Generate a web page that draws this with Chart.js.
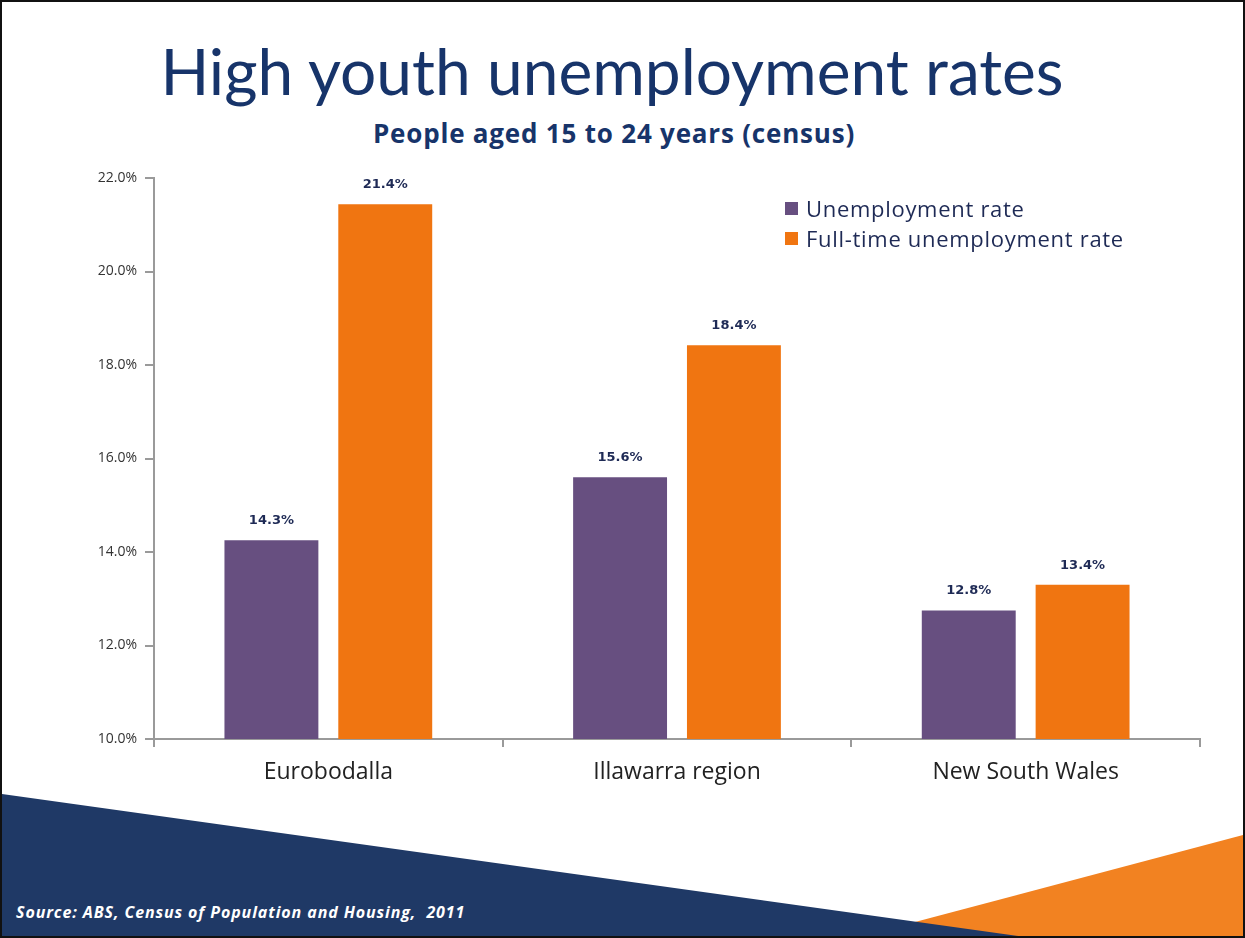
<!DOCTYPE html>
<html lang="en">
<head>
    <meta charset="UTF-8">
    <title>High youth unemployment rates</title>
    <script src="https://cdn.jsdelivr.net/npm/chart.js"></script>
    <style>
        html, body {
            margin: 0;
            padding: 0;
            background: #fff;
        }

        .slide {
            position: relative;
            width: 1245px;
            height: 938px;
            overflow: hidden;
            background: #fff;
            box-sizing: border-box;
            border: 2px solid #111;
            font-family: Lato, 'Open Sans', sans-serif;
        }

        .title {
            position: absolute;
            left: 0;
            width: 1220px;
            top: 30px;
            text-align: center;
            font-size: 64px;
            color: #17346a;
        }

        .subtitle {
            position: absolute;
            left: 0;
            width: 1224px;
            top: 113px;
            text-align: center;
            font-family: 'Open Sans', sans-serif;
            font-size: 26px;
            letter-spacing: 0.8px;
            font-weight: bold;
            color: #17346a;
        }

        #chartWrap {
            position: absolute;
            left: 0;
            top: 0;
            width: 1241px;
            height: 934px;
        }

        .legend {
            position: absolute;
            left: 783px;
            top: 191px;
            font-family: 'Open Sans', sans-serif;
            font-size: 22px;
            letter-spacing: 0.7px;
            color: #1e2a55;
        }

        .legend div {
            height: 30px;
            display: flex;
            align-items: center;
        }

        .legend span.box {
            display: inline-block;
            width: 13px;
            height: 13px;
            margin-right: 8px;
        }

        .navy {
            position: absolute;
            left: 0;
            top: 0;
            width: 1245px;
            height: 938px;
            background: #1f3966;
            clip-path: polygon(0 792px, 1045px 938px, 0 938px);
        }

        .orange {
            position: absolute;
            left: 0;
            top: 0;
            width: 1245px;
            height: 938px;
            background: #f28221;
            clip-path: polygon(845px 938px, 1245px 832px, 1245px 938px);
        }

        .source {
            position: absolute;
            left: 14px;
            top: 899px;
            font-family: 'Open Sans', sans-serif;
            font-size: 16px;
            letter-spacing: 0.9px;
            font-style: italic;
            font-weight: bold;
            color: #fff;
        }
    </style>
</head>
<body>
    <div class="slide">
        <div class="orange"></div>
        <div class="navy"></div>
        <div class="source">Source: ABS, Census of Population and Housing,&nbsp; 2011</div>
        <div class="title">High youth unemployment rates</div>
        <div class="subtitle">People aged 15 to 24 years (census)</div>
        <div id="chartWrap"><canvas id="chart"></canvas></div>
        <div class="legend" id="legend"></div>
    </div>
    <script>
        const regions = ['Eurobodalla', 'Illawarra region', 'New South Wales'];
        const unemploymentRate = [14.25, 15.6, 12.75];
        const fullTimeRate = [21.44, 18.42, 13.3];
        const unemploymentText = ['14.3%', '15.6%', '12.8%'];
        const fullTimeText = ['21.4%', '18.4%', '13.4%'];
        const yTicks = [10, 12, 14, 16, 18, 20, 22];

        const purple = '#674f80';
        const orange = '#f07511';

        // value labels above each bar
        const barLabels = {
            id: 'barLabels',
            afterDatasetsDraw(chart) {
                const ctx = chart.ctx;
                ctx.save();
                ctx.font = 'bold 13px "DejaVu Sans", sans-serif';
                ctx.fillStyle = '#1e2a55';
                ctx.textAlign = 'center';
                ctx.textBaseline = 'bottom';
                chart.data.datasets.forEach((ds, i) => {
                    chart.getDatasetMeta(i).data.forEach((bar, j) => {
                        ctx.fillText(ds.valueText[j], bar.x, bar.y - 13);
                    });
                });
                ctx.restore();
            }
        };

        // simple bevel on the right side of bars
        function barFill(color, dark) {
            return (c) => {
                const el = c.element;
                if (!el || !el.width) return color;
                const g = c.chart.ctx.createLinearGradient(el.x - el.width / 2, 0, el.x + el.width / 2, 0);
                g.addColorStop(0, color);
                g.addColorStop(0.9, color);
                g.addColorStop(1, dark);
                return g;
            };
        }

        const chart = new Chart(document.getElementById('chart'), {
            type: 'bar',
            data: {
                labels: regions,
                datasets: [
                    {
                        label: 'Unemployment rate',
                        data: unemploymentRate,
                        valueText: unemploymentText,
                        backgroundColor: barFill(purple, '#3d2d4e'),
                        legendColor: purple,
                        barPercentage: 0.825,
                        categoryPercentage: 0.653
                    },
                    {
                        label: 'Full-time unemployment rate',
                        data: fullTimeRate,
                        valueText: fullTimeText,
                        backgroundColor: barFill(orange, '#8a420a'),
                        legendColor: orange,
                        barPercentage: 0.825,
                        categoryPercentage: 0.653
                    }
                ]
            },
            options: {
                responsive: true,
                maintainAspectRatio: false,
                animation: false,
                layout: {
                    padding: { left: 40, right: 43, top: 176, bottom: 137 }
                },
                plugins: {
                    legend: { display: false },
                    tooltip: { enabled: false }
                },
                scales: {
                    x: {
                        afterFit: s => { s.height = 60; },
                        border: { color: '#9a9a9a', width: 2 },
                        grid: {
                            offset: true,
                            drawOnChartArea: false,
                            drawTicks: true,
                            tickLength: 8,
                            color: '#9a9a9a',
                            lineWidth: 2
                        },
                        ticks: {
                            color: '#222',
                            padding: 12,
                            font: { family: '"Open Sans", sans-serif', size: 23 }
                        }
                    },
                    y: {
                        min: 10,
                        max: 22,
                        afterFit: s => { s.width = 112; },
                        afterBuildTicks: s => { s.ticks = yTicks.map(v => ({ value: v })); },
                        border: { color: '#9a9a9a', width: 2 },
                        grid: {
                            drawOnChartArea: false,
                            drawTicks: true,
                            tickLength: 9,
                            color: '#9a9a9a',
                            lineWidth: 2
                        },
                        ticks: {
                            color: '#333',
                            padding: 8,
                            font: { family: '"Open Sans", sans-serif', size: 14 },
                            callback: v => v.toFixed(1) + '%'
                        }
                    }
                }
            },
            plugins: [barLabels]
        });

        const legendEl = document.getElementById('legend');
        chart.data.datasets.forEach(ds => {
            const row = document.createElement('div');
            const box = document.createElement('span');
            box.className = 'box';
            box.style.background = ds.legendColor;
            row.appendChild(box);
            row.appendChild(document.createTextNode(ds.label));
            legendEl.appendChild(row);
        });
    </script>
</body>
</html>
